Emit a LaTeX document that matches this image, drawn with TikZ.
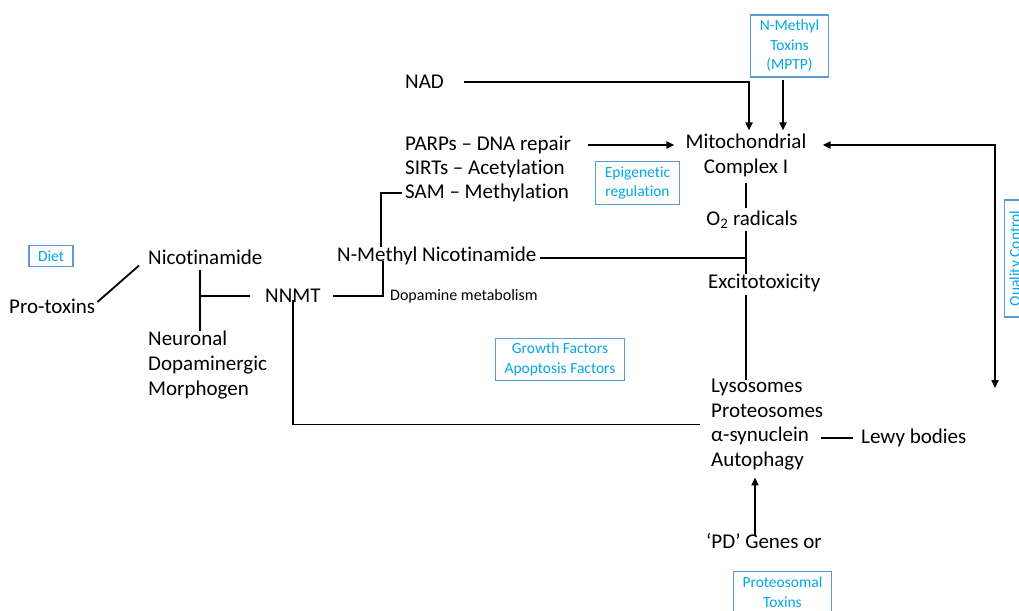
\documentclass[tikz,border=0pt]{standalone}
\usepackage{fontspec}
\setmainfont{Carlito}[Ligatures=NoCommon]
\usetikzlibrary{arrows.meta, positioning}
\definecolor{boxblue}{RGB}{91,155,213}
\definecolor{labelblue}{RGB}{0,166,232}

\begin{document}
\begin{tikzpicture}[x=1pt, y=-1pt,
	term/.style={inner sep=0pt, align=left, font=\fontsize{21}{24.8}\selectfont},
	note/.style={inner sep=0pt, font=\fontsize{16}{19}\selectfont},
	factor/.style={draw=boxblue, line width=1.2pt, text=labelblue, align=center, inner xsep=9pt, inner ysep=5pt, font=\fontsize{15.5}{19.5}\selectfont},
	link/.style={line width=1.8pt},
	push/.style={line width=1.8pt, -{Triangle[length=8pt,width=7pt]}}]
				\useasboundingbox (0,0) rectangle (1019,610);
				\clip (0,0) rectangle (1019,610);

				% Blue factor boxes
				\node[factor] (mptp) at (789.5,46) {N-Methyl\\Toxins\\(MPTP)};
				\node[factor] (epi) at (637.5,183) {Epigenetic\\regulation};
				\node[factor] (diet) at (51,256) {Diet};
				\node[factor] (growth) at (560,359.5) {Growth Factors\\Apoptosis Factors};
				\node[factor] (proteo) at (782.5,592) {Proteosomal\\Toxins};
				\node[factor, rotate=90, minimum width=117pt] (quality) at (1016,258.5) {Quality Control};

				% Pathway terms
				\node[term, anchor=west] (nad) at (405,82) {NAD};
				\node[term, anchor=west] (parps) at (405,145) {PARPs – DNA repair};
				\node[term, anchor=west] (sirts) at (405,169) {SIRTs – Acetylation};
				\node[term, anchor=west] (sam) at (405,193) {SAM – Methylation};
				\node[term, align=center] (mito) at (746,155) {Mitochondrial\\Complex I};
				\node[term] (radicals) at (752,220) {O\textsubscript{2} radicals};
				\node[term, anchor=west] (excito) at (708,283) {Excitotoxicity};
				\node[term, anchor=west] (nmn) at (337,256) {N-Methyl Nicotinamide};
				\node[note, anchor=west] (dopamine) at (390,296) {Dopamine metabolism};
				\node[term, anchor=west] (nnmt) at (265,296) {NNMT};
				\node[term, anchor=west] (nico) at (148,257) {Nicotinamide};
				\node[term, anchor=west] (protox) at (9,306) {Pro-toxins};
				\node[term, anchor=west] (neuro) at (148,365) {Neuronal\\Dopaminergic\\Morphogen};
				\node[term, anchor=west] (lyso) at (711,424.5) {Lysosomes\\Proteosomes\\α-synuclein\\Autophagy};
				\node[term, anchor=west] (lewy) at (861,438) {Lewy bodies};
				\node[term, anchor=west] (genes) at (706,541) {‘PD’ Genes or};

				% Inputs to complex I
				\coordinate (mitotop) at ([yshift=3pt]mito.north);
				\draw[push] ([xshift=20pt]nad.east) -| ([xshift=3pt]mitotop);
				\draw[push] ([xshift=-6.5pt,yshift=-2pt]mptp.south) -- ([xshift=-6.5pt]mptp.south |- mitotop);
				\draw[push, line width=2.4pt] ([xshift=17pt]parps.east) -- ([xshift=-11pt]parps.east -| mito.west);

				% Quality control loop
				\coordinate (qcdrop) at (995,388);
				\draw[line width=1.8pt, {Triangle[length=8pt,width=7pt]}-{Triangle[length=8pt,width=7pt]}]
				([xshift=16pt]parps.east -| mito.east) -| (qcdrop);

				% Main cascade
				\draw[link] ([yshift=-6pt]mito.south) -- ([yshift=3pt]mito.south |- radicals.north);
				\draw[link] ([yshift=-2pt]radicals.south -| mito.south) -- (excito.north -| mito.south);
				\draw[link] ([xshift=3pt,yshift=-2pt]nmn.east) -- ([yshift=-2pt]nmn.east -| mito.south);
				\draw[link] ([yshift=-3pt]excito.south -| mito.south) -- ([yshift=-1pt]lyso.north -| mito.south);

				% Methylation branches
				\draw[link] ([xshift=-3pt]sam.west) -| ([xshift=44pt]nmn.north west);
				\draw[link] ([xshift=46pt,yshift=4pt]nmn.south west) |- ([xshift=12pt]nnmt.east);

				% Nicotinamide fork
				\coordinate (fork) at ([xshift=52pt,yshift=-5pt]nico.south west);
				\draw[link] (fork) -- (fork |- neuro.north);
				\draw[link] ([xshift=-15pt]nnmt.west) -- (fork |- nnmt.west);
				\draw[link] ([xshift=2pt,yshift=4pt]protox.east) -- ([xshift=-9pt,yshift=-1pt]nico.south west);
				\draw[link] ([yshift=3pt]nnmt.south) |- ([xshift=-11pt]lyso.west);

				% Protein handling
				\draw[link] ([xshift=-2pt]lyso.east |- lewy.west) -- ([xshift=-8pt]lewy.west);
				\coordinate (pdtop) at ([xshift=49pt,yshift=-2pt]genes.north west);
				\draw[push] (pdtop) -- ([yshift=-7pt]pdtop |- lyso.south);
\end{tikzpicture}
\end{document}
